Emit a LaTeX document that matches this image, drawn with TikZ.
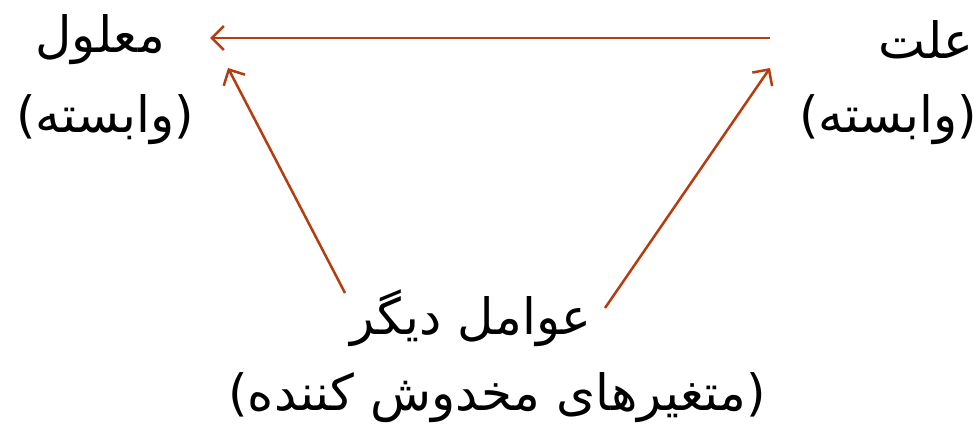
\documentclass[tikz,border=0pt]{standalone}
\usepackage{fontspec}
\usetikzlibrary{arrows.meta}
\TeXXeTstate=1
\newfontfamily\arabicfont[Script=Arabic]{DejaVu Sans}
\definecolor{arrcol}{HTML}{B43C0E}
\begin{document}
\begin{tikzpicture}[x=1pt,y=-1pt,
  lbl/.style={font=\arabicfont\fontsize{50}{58}\selectfont, inner sep=0pt, anchor=center},
  conn/.style={draw=arrcol, line width=2.5pt, -{Straight Barb[length=12pt,width=24pt]}}]
\useasboundingbox (0,0) rectangle (978,436);
\node[lbl] (eff) at (100,40) {\beginR معلول\endR};
\node[lbl] (effsub) at (105,120) {\beginR(وابسته)\endR};
\node[lbl] (cause) at (926,40) {\beginR علت\endR};
\node[lbl] (causesub) at (888,120) {\beginR(وابسته)\endR};
\node[lbl] (other) at (471,318) {\beginR عوامل دیگر\endR};
\node[lbl] (othersub) at (497,398) {\beginR(متغیرهای مخدوش کننده)\endR};
\coordinate (hA) at (770,38);
\coordinate (hB) at (210,38);
\coordinate (lA) at (345,293);
\coordinate (lB) at (228,68);
\coordinate (rA) at (605,308);
\coordinate (rB) at (770,68);
\draw[conn] (hA) -- (hB);
\draw[conn] (lA) -- (lB);
\draw[conn] (rA) -- (rB);
\end{tikzpicture}
\end{document}
